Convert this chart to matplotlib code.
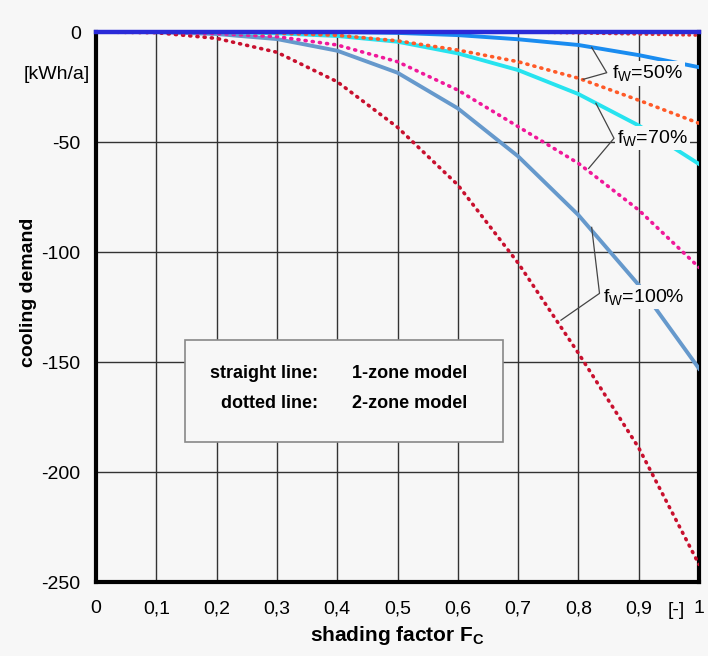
import matplotlib
matplotlib.use("Agg")
import matplotlib.pyplot as plt
from matplotlib.patches import Rectangle

plt.rcParams['font.family'] = ['Liberation Sans', 'DejaVu Sans']
plt.rcParams['mathtext.fontset'] = 'custom'
plt.rcParams['mathtext.rm'] = 'Liberation Sans'
plt.rcParams['mathtext.bf'] = 'Liberation Sans:bold'
plt.rcParams['axes.unicode_minus'] = False

# shading factor F_C
fc = [0, 0.1, 0.2, 0.3, 0.4, 0.5, 0.6, 0.7, 0.8, 0.9, 1.0]
fc_labels = ['0', '0,1', '0,2', '0,3', '0,4', '0,5', '0,6', '0,7', '0,8', '0,9', '1']

# cooling demand [kWh/a]
top_line = [0, 0, 0, 0, 0, 0, 0, 0, 0, 0, 0]
top_dotted = [0, 0, 0, 0, 0, 0, 0, 0, -0.5, -1.0, -1.5]
fw50_1zone = [0, 0, 0, 0, 0, -0.4, -1.4, -3.3, -5.9, -10.5, -16]
fw50_2zone = [0, 0, 0, -0.5, -1.5, -4.0, -8.2, -13.5, -21, -31, -41.5]
fw70_1zone = [0, 0, 0, -0.6, -1.8, -4.4, -9.7, -17.3, -28.2, -42.5, -60]
fw70_2zone = [0, 0, -0.7, -2.1, -5.9, -13.5, -26.4, -43, -59.7, -80.9, -107]
fw100_1zone = [0, 0, -0.9, -3.2, -8.5, -18.5, -34.7, -56.5, -83.2, -115, -153]
fw100_2zone = [0, -0.3, -2.9, -9.2, -22.6, -43.3, -69.5, -105, -146, -189, -242]

bg = '#f7f7f7'
dotted = (0, (0.3, 1.7))

fig = plt.figure(figsize=(7.08, 6.56), dpi=100, facecolor=bg)
ax = fig.add_axes([0.1356, 0.1128, 0.8517, 0.8384], facecolor=bg)

ax.plot(fc, fw100_1zone, color='#6699cc', lw=2.8, zorder=3)
ax.plot(fc, fw100_2zone, color='#c8102e', lw=2.6, ls=dotted, dash_capstyle='round', zorder=3)
ax.plot(fc, fw70_2zone, color='#f0189a', lw=2.6, ls=dotted, dash_capstyle='round', zorder=3)
ax.plot(fc, fw70_1zone, color='#27e3ef', lw=2.8, zorder=3)
ax.plot(fc, fw50_2zone, color='#ff5a28', lw=2.6, ls=dotted, dash_capstyle='round', zorder=3)
ax.plot(fc, fw50_1zone, color='#1a8cf0', lw=2.8, zorder=3)
ax.plot(fc, top_dotted, color='#e03030', lw=2.2, ls=dotted, dash_capstyle='round', zorder=3)
ax.plot(fc, top_line, color='#2a2ad8', lw=3.2, zorder=4, clip_on=False)

ax.set_xlim(0, 1)
ax.set_ylim(-250, 0)
ax.set_xticks(fc)
ax.set_xticklabels(fc_labels)
ax.set_yticks([0, -50, -100, -150, -200, -250])
ax.tick_params(axis='both', length=0, labelsize=14)
ax.tick_params(axis='x', pad=13)
ax.tick_params(axis='y', pad=11)
ax.grid(True, color='#333333', lw=1.0)
ax.set_axisbelow(True)

for side in ['left', 'bottom', 'right']:
    ax.spines[side].set_linewidth(3)
    ax.spines[side].set_color('black')
ax.spines['top'].set_visible(False)

ax.set_xlabel(r'shading factor $\mathbf{F_C}$', fontsize=15, fontweight='bold', labelpad=5)
ax.set_ylabel('cooling demand', fontsize=14, fontweight='bold')
ax.yaxis.set_label_coords(-0.098, 0.527)
ax.text(-0.01, -19.5, '[kWh/a]', fontsize=14, ha='right', va='center')
ax.text(0.962, -263, '[-]', fontsize=14, ha='center', va='center', clip_on=False)

# labels with leader lines
lead = dict(color='#444444', lw=0.9, zorder=5)
box = dict(facecolor=bg, edgecolor='none', pad=1.5)
ax.plot([0.822, 0.847, 0.808], [-7, -18.5, -21.5], **lead)
ax.text(0.856, -18.8, r'f$\mathrm{_W}$=50%', fontsize=14, va='center', bbox=box, zorder=6)
ax.plot([0.829, 0.859, 0.817], [-32.4, -48.3, -62], **lead)
ax.text(0.864, -48.3, r'f$\mathrm{_W}$=70%', fontsize=14, va='center', bbox=box, zorder=6)
ax.plot([0.822, 0.835, 0.771], [-88.8, -118.8, -131], **lead)
ax.text(0.841, -120.3, r'f$\mathrm{_W}$=100%', fontsize=14, va='center', bbox=box, zorder=6)

# legend box
ax.add_patch(Rectangle((0.1476, -186.2), 0.5274, 46.2, facecolor=bg,
                       edgecolor='#888888', lw=1.2, zorder=6))
ax.text(0.368, -155, 'straight line:', fontsize=13, fontweight='bold', ha='right', va='center', zorder=7)
ax.text(0.4245, -155, '1-zone model', fontsize=13, fontweight='bold', ha='left', va='center', zorder=7)
ax.text(0.368, -169, 'dotted line:', fontsize=13, fontweight='bold', ha='right', va='center', zorder=7)
ax.text(0.4245, -169, '2-zone model', fontsize=13, fontweight='bold', ha='left', va='center', zorder=7)

fig.savefig('out.png', dpi=100, facecolor=bg)
